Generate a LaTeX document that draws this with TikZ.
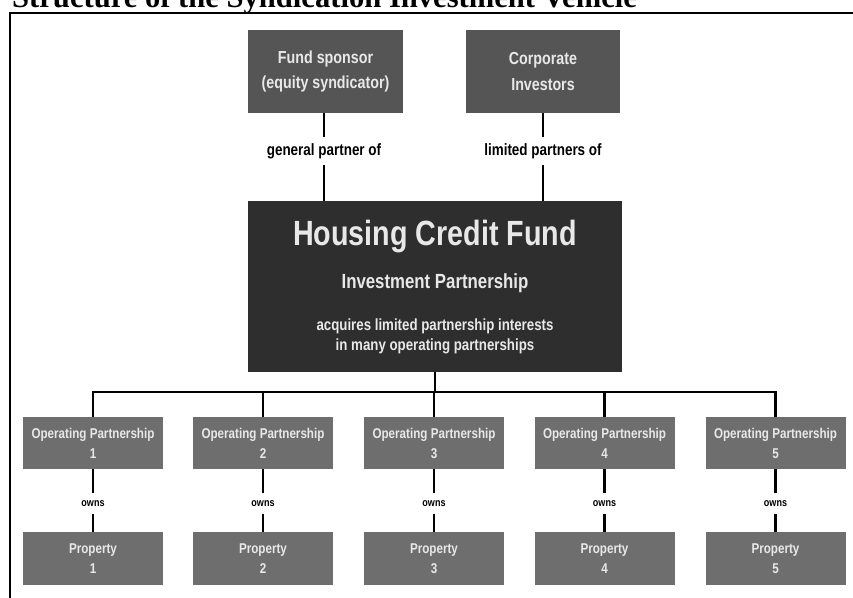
\documentclass[tikz,border=0pt]{standalone}
\usepackage{fontspec}
\setmainfont{Liberation Serif}
\newfontfamily\cond{Liberation Sans}[FakeStretch=0.82]
\definecolor{topgray}{HTML}{555555}
\definecolor{maingray}{HTML}{2E2E2E}
\definecolor{smallgray}{HTML}{6E6E6E}
\definecolor{boxtext}{HTML}{E8E8E8}
\begin{document}
\begin{tikzpicture}[x=1pt,y=-1pt,
  conn/.style={line width=2.6pt},
  topbox/.style={rectangle, fill=topgray, inner sep=0pt, align=center,
    minimum width=155pt, minimum height=83pt, text=boxtext,
    font=\cond\bfseries\fontsize{17.4}{25.5}\selectfont},
  mainbox/.style={rectangle, fill=maingray, inner sep=0pt,
    minimum width=374pt, minimum height=171pt},
  maintext/.style={text=boxtext, inner sep=0pt, anchor=base, align=center},
  smallbox/.style={rectangle, fill=smallgray, inner sep=0pt, align=center,
    minimum width=140pt, minimum height=52pt, text=boxtext,
    font=\cond\bfseries\fontsize{14.2}{20}\selectfont},
  rellabel/.style={inner sep=0pt, minimum height=28pt, text=black,
    font=\cond\bfseries\fontsize{16.4}{20}\selectfont},
  ownslabel/.style={inner sep=0pt, minimum height=21pt, text=black,
    font=\cond\bfseries\fontsize{11}{13}\selectfont}
]
\useasboundingbox (0,0) rectangle (853,597);
\clip (0,0) rectangle (853,597);
\fill[white] (0,0) rectangle (853,597);

% title (top cropped, as in the reference) and frame
\node[anchor=base west, inner sep=0pt, font=\bfseries\fontsize{30.6}{34}\selectfont] (title) at (12,7) {Structure of the Syndication Investment Vehicle};
\draw[line width=2pt] (10,640) -- (10,13) -- (880,13);

% top boxes
\node[topbox] (fs) at (325.5,71.5) {Fund sponsor\\(equity syndicator)};
\node[topbox, minimum width=154pt] (ci) at (543,71.5) {Corporate\\Investors};

% main box
\node[mainbox] (main) at (435,286.5) {};
\node[maintext, font=\cond\bfseries\fontsize{35}{40}\selectfont] (hcf) at (435,245) {Housing Credit Fund};
\node[maintext, font=\cond\bfseries\fontsize{20.5}{24}\selectfont] (ip) at (435,288) {Investment Partnership};
\node[maintext, font=\cond\bfseries\fontsize{16.2}{20}\selectfont] (acq1) at (435,330) {acquires limited partnership interests};
\node[maintext, font=\cond\bfseries\fontsize{16.2}{20}\selectfont] (acq2) at (435,350) {in many operating partnerships};

% relation labels
\node[rellabel] (gp) at (324,151) {general partner of};
\node[rellabel] (lp) at (543,151) {limited partners of};
\draw[conn] (fs.south -| gp) -- (gp.north);
\draw[conn] (gp.south) -- (main.north -| gp);
\draw[conn] (ci.south) -- (lp.north);
\draw[conn] (lp.south) -- (main.north -| lp);

% operating partnerships and properties
\foreach \i/\x in {1/93,2/263,3/434,4/604.5,5/775.5}{
  \node[smallbox] (op\i) at (\x,443) {Operating Partnership\\\i};
  \node[ownslabel] (ow\i) at (\x,503.5) {owns};
  \node[smallbox, minimum height=53pt] (pr\i) at (\x,558.5) {Property\\\i};
  \draw[conn] (op\i.south) -- (ow\i.north);
  \draw[conn] (ow\i.south) -- (pr\i.north);
}

% bus
\coordinate (bus) at (435,392);
\draw[conn] (main.south) -- (bus);
\draw[conn, line join=miter] (op1.north) |- (bus) -| (op5.north);
\foreach \i in {2,3,4}{
  \draw[conn] (op\i.north) -- (op\i.north |- bus);
}
\end{tikzpicture}
\end{document}
